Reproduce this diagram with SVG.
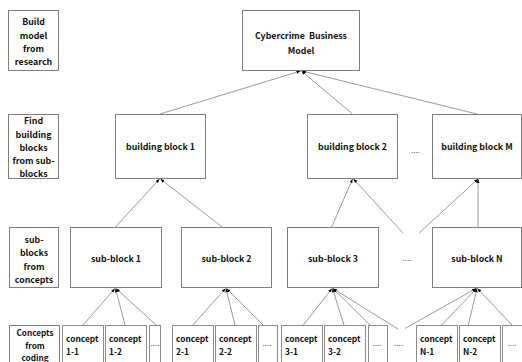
<svg xmlns="http://www.w3.org/2000/svg" width="522" height="362" viewBox="0 0 522 362">
<style>
.box{fill:#fff;stroke:#7f7f7f;stroke-width:1}
.cbox{fill:#fff;stroke:#8c8c8c;stroke-width:1}
.t{font-family:"Noto Sans CJK KR","Liberation Sans",sans-serif;font-weight:bold;font-size:8.8px;fill:#111;text-anchor:middle}
.ts{font-size:8.2px}
.tl{font-family:"Noto Sans CJK KR","Liberation Sans",sans-serif;font-weight:bold;font-size:8.4px;fill:#111}
.d{font-family:"Liberation Sans",sans-serif;font-size:8px;fill:#000;text-anchor:middle}
.c{stroke:#808080;stroke-width:0.8;fill:none;marker-end:url(#ah)}
</style>
<defs>
<marker id="ah" markerUnits="userSpaceOnUse" markerWidth="5" markerHeight="4" refX="4" refY="1.6" orient="auto">
<path d="M0,0 L4,1.6 L0,3.2 z" fill="#000"/>
</marker>
</defs>
<rect width="522" height="362" fill="#fff"/>
<g id="connectors">
<line class="c" x1="160" y1="114" x2="300.5" y2="71"/>
<line class="c" x1="352.5" y1="114" x2="301.5" y2="71"/>
<line class="c" x1="477" y1="114" x2="302" y2="71"/>
<line class="c" x1="115.5" y1="227" x2="159.5" y2="179"/>
<line class="c" x1="222" y1="227" x2="160.5" y2="179"/>
<line class="c" x1="331.7" y1="227" x2="352.5" y2="179"/>
<line class="c" x1="403" y1="233" x2="353.5" y2="179"/>
<line class="c" x1="419" y1="233" x2="478" y2="179"/>
<line class="c" x1="478" y1="227" x2="478" y2="179"/>
<line class="c" x1="83" y1="325" x2="115" y2="288.5"/>
<line class="c" x1="125" y1="325" x2="115.5" y2="288.5"/>
<line class="c" x1="156" y1="325" x2="116" y2="288.5"/>
<line class="c" x1="193" y1="325" x2="225.5" y2="288.5"/>
<line class="c" x1="235" y1="325" x2="226" y2="288.5"/>
<line class="c" x1="263" y1="325" x2="226.5" y2="288.5"/>
<line class="c" x1="303.3" y1="325" x2="332" y2="288.5"/>
<line class="c" x1="344" y1="325" x2="332.5" y2="288.5"/>
<line class="c" x1="370" y1="325" x2="333" y2="288.5"/>
<line class="c" x1="398" y1="329" x2="333" y2="288.5"/>
<line class="c" x1="405" y1="328.5" x2="476" y2="288.5"/>
<line class="c" x1="441.7" y1="325" x2="476.5" y2="288.5"/>
<line class="c" x1="468.3" y1="325" x2="477" y2="288.5"/>
<line class="c" x1="512" y1="325" x2="477.5" y2="288.5"/>
</g>
<g id="label-build">
<rect class="box" x="8.5" y="10.5" width="50" height="60"/>
<text class="t" x="33.5" y="25">Build</text>
<text class="t" x="33.5" y="38.5">model</text>
<text class="t" x="33.5" y="51.5">from</text>
<text class="t" x="33.5" y="65">research</text>
</g>
<g id="label-find">
<rect class="box" x="8.5" y="114.5" width="50" height="64"/>
<text class="t" x="33.5" y="124">Find</text>
<text class="t" x="33.5" y="137.5">building</text>
<text class="t" x="33.5" y="150.5">blocks</text>
<text class="t" x="33.5" y="164">from sub-</text>
<text class="t" x="33.5" y="177">blocks</text>
</g>
<g id="label-sub">
<rect class="box" x="9.5" y="227.5" width="49" height="60"/>
<text class="t" x="34" y="242.5">sub-</text>
<text class="t" x="34" y="256">blocks</text>
<text class="t" x="34" y="269.5">from</text>
<text class="t" x="34" y="282.5">concepts</text>
</g>
<g id="label-concepts">
<rect class="box" x="9.5" y="325.5" width="50" height="45"/>
<text class="t ts" x="35" y="336">Concepts</text>
<text class="t ts" x="35" y="348.5">from</text>
<text class="t ts" x="35" y="361">coding</text>
</g>
<g id="cybercrime">
<rect class="box" x="242.5" y="10.5" width="117" height="60"/>
<text class="t" x="301" y="38.5" xml:space="preserve">Cybercrime  Business</text>
<text class="t" x="301" y="53.5">Model</text>
</g>
<g id="bb1">
<rect class="box" x="115.5" y="114.5" width="90" height="64"/>
<text class="t" x="160.5" y="150">building block 1</text>
</g>
<g id="bb2">
<rect class="box" x="307.5" y="114.5" width="90" height="64"/>
<text class="t" x="352.5" y="150">building block 2</text>
</g>
<g id="bb-dots"><text class="d" x="415.5" y="153">....</text></g>
<g id="bbM">
<rect class="box" x="432.5" y="114.5" width="89" height="64"/>
<text class="t" x="477" y="150">building block M</text>
</g>
<g id="sb1">
<rect class="box" x="70.5" y="227.5" width="91" height="60"/>
<text class="t" x="116" y="261.5">sub-block 1</text>
</g>
<g id="sb2">
<rect class="box" x="181.5" y="227.5" width="90" height="60"/>
<text class="t" x="226.5" y="261.5">sub-block 2</text>
</g>
<g id="sb3">
<rect class="box" x="287.5" y="227.5" width="91" height="60"/>
<text class="t" x="333" y="261.5">sub-block 3</text>
</g>
<g id="sb-dots"><text class="d" x="407" y="261">....</text></g>
<g id="sbN">
<rect class="box" x="432.5" y="227.5" width="89" height="60"/>
<text class="t" x="477" y="261.5">sub-block N</text>
</g>
<g id="c11"><rect class="cbox" x="62.5" y="325.5" width="41" height="45"/><text class="tl" x="66" y="341.5">concept</text><text class="tl" x="66" y="355">1-1</text></g>
<g id="c12"><rect class="cbox" x="105.5" y="325.5" width="41" height="45"/><text class="tl" x="109" y="341.5">concept</text><text class="tl" x="109" y="355">1-2</text></g>
<g id="cd1"><rect class="cbox" x="149.5" y="325.5" width="11" height="45"/><text class="d" x="155" y="346">....</text></g>
<g id="c21"><rect class="cbox" x="172.5" y="325.5" width="41" height="45"/><text class="tl" x="176" y="341.5">concept</text><text class="tl" x="176" y="355">2-1</text></g>
<g id="c22"><rect class="cbox" x="215.5" y="325.5" width="41" height="45"/><text class="tl" x="219" y="341.5">concept</text><text class="tl" x="219" y="355">2-2</text></g>
<g id="cd2"><rect class="cbox" x="258.5" y="325.5" width="19" height="45"/><text class="d" x="267" y="346">....</text></g>
<g id="c31"><rect class="cbox" x="281.5" y="325.5" width="41" height="45"/><text class="tl" x="285" y="341.5">concept</text><text class="tl" x="285" y="355">3-1</text></g>
<g id="c32"><rect class="cbox" x="324.5" y="325.5" width="41" height="45"/><text class="tl" x="328" y="341.5">concept</text><text class="tl" x="328" y="355">3-2</text></g>
<g id="cd3"><rect class="cbox" x="368.5" y="325.5" width="19" height="45"/><text class="d" x="377" y="346">....</text></g>
<g id="c-dots"><text class="d" x="398.5" y="346">....</text></g>
<g id="cN1"><rect class="cbox" x="416.5" y="325.5" width="41" height="45"/><text class="tl" x="420" y="341.5">concept</text><text class="tl" x="420" y="355">N-1</text></g>
<g id="cN2"><rect class="cbox" x="459.5" y="325.5" width="41" height="45"/><text class="tl" x="463" y="341.5">concept</text><text class="tl" x="463" y="355">N-2</text></g>
<g id="cdN"><rect class="cbox" x="502.5" y="325.5" width="22" height="45"/><text class="d" x="512" y="346">....</text></g>
</svg>
